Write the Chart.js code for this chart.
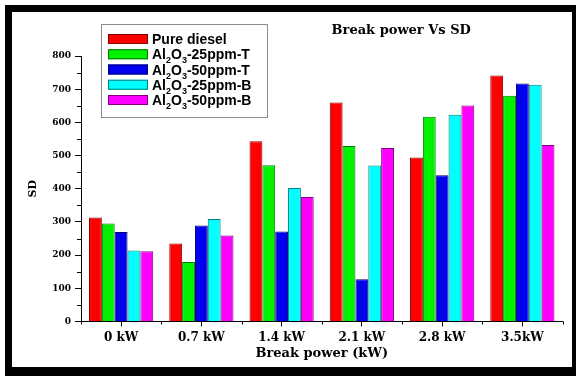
<!DOCTYPE html>
<html>
<head>
<meta charset="utf-8">
<script src="https://cdn.jsdelivr.net/npm/chart.js@4"></script>
<style>
  html, body { margin: 0; padding: 0; background: #fff; }
  #wrap { position: relative; width: 576px; height: 376px; overflow: hidden; }
  #frame {
    position: absolute; left: 5px; top: 5px; right: 0; bottom: 0;
    border-style: solid; border-color: #000; border-width: 7px 4px 9px 7px;
    box-sizing: border-box; pointer-events: none;
  }
  canvas { position: absolute; left: 0; top: 0; }
</style>
</head>
<body>
<div id="wrap">
  <canvas id="sdChart" width="576" height="376"></canvas>
  <div id="frame"></div>
</div>
<script>
const categories = ["0 kW", "0.7 kW", "1.4 kW", "2.1 kW", "2.8 kW", "3.5kW"];

const pureDiesel = [313, 235, 543, 660, 494, 741];
const al25T = [295, 179, 471, 529, 617, 680];
const al50T = [270, 289, 271, 127, 441, 717];
const al25B = [214, 309, 402, 470, 623, 713];
const al50B = [212, 259, 375, 523, 651, 532];

const seriesNames = ["Pure diesel", "Al₂O₃-25ppm-T", "Al₂O₃-50ppm-T", "Al₂O₃-25ppm-B", "Al₂O₃-50ppm-B"];
const seriesValues = [pureDiesel, al25T, al50T, al25B, al50B];
const fillColors = ["#ff0000", "#00f000", "#0000f0", "#00ffff", "#ff00ff"];
const edgeColors = ["#8a0000", "#007a00", "#000070", "#007f7f", "#800080"];

const yMin = 0;
const yMax = 800;
const yStep = 100;

const chartTitle = "Break power Vs SD";
const xTitle = "Break power (kW)";
const yTitle = "SD";

const serif = "'DejaVu Serif', serif";
const sans = "'Liberation Sans', Arial, sans-serif";
const subDigits = "₀₁₂₃₄₅₆₇₈₉";

// writes a legend entry, dropping the unicode subscript digits down in a smaller font
function drawLabel(ctx, text, x, y) {
  const parts = text.split(/([₀-₉]+)/);
  for (const part of parts) {
    if (!part) continue;
    if (subDigits.includes(part[0])) {
      const digits = [...part].map(c => subDigits.indexOf(c)).join("");
      ctx.font = `bold 9px ${sans}`;
      ctx.fillText(digits, x, y + 4);
      x += ctx.measureText(digits).width;
    } else {
      ctx.font = `bold 14px ${sans}`;
      ctx.fillText(part, x, y);
      x += ctx.measureText(part).width;
    }
  }
}

// minor ticks, the title and the boxed legend inside the plot
const extras = {
  id: "extras",
  afterDraw(chart) {
    const { ctx, chartArea: area, scales } = chart;
    const xs = scales.x, ys = scales.y;
    ctx.save();

    ctx.strokeStyle = "#000";
    ctx.lineWidth = 1;
    ctx.beginPath();
    for (let v = yMin + yStep / 2; v < yMax; v += yStep) {
      const py = Math.round(ys.getPixelForValue(v)) + 0.5;
      ctx.moveTo(area.left - 4, py);
      ctx.lineTo(area.left, py);
    }
    const half = (xs.getPixelForValue(1) - xs.getPixelForValue(0)) / 2;
    for (let i = 0; i <= categories.length; i++) {
      const px = Math.round(xs.getPixelForValue(i) - half) + 0.5;
      ctx.moveTo(px, area.bottom);
      ctx.lineTo(px, area.bottom + 3);
    }
    ctx.stroke();

    ctx.fillStyle = "#000";
    ctx.font = `bold 13px ${serif}`;
    ctx.textAlign = "center";
    ctx.textBaseline = "middle";
    ctx.fillText(chartTitle, area.left + area.width * 0.665, 31);

    const boxX = area.left + 20, boxY = 24, boxW = 166, boxH = 93;
    ctx.fillStyle = "#fff";
    ctx.fillRect(boxX, boxY, boxW, boxH);
    ctx.strokeStyle = "#8c8c8c";
    ctx.strokeRect(boxX + 0.5, boxY + 0.5, boxW, boxH);

    ctx.textAlign = "left";
    ctx.textBaseline = "alphabetic";
    chart.data.datasets.forEach((ds, i) => {
      const cy = boxY + 15 + i * 15.25;
      ctx.fillStyle = ds.backgroundColor;
      ctx.fillRect(boxX + 7, cy - 5, 40, 10);
      ctx.strokeStyle = ds.borderColor;
      ctx.strokeRect(boxX + 7.5, cy - 4.5, 39, 9);
      ctx.fillStyle = "#000";
      drawLabel(ctx, ds.label, boxX + 51, cy + 5);
    });

    ctx.restore();
  }
};

new Chart(document.getElementById("sdChart"), {
  type: "bar",
  data: {
    labels: categories,
    datasets: seriesNames.map((name, i) => ({
      label: name,
      data: seriesValues[i],
      backgroundColor: fillColors[i],
      borderColor: edgeColors[i],
      borderWidth: 1,
      categoryPercentage: 0.8,
      barPercentage: 1,
    })),
  },
  options: {
    responsive: false,
    animation: false,
    devicePixelRatio: 1,
    layout: { padding: { left: 0, top: 56, right: 13.5, bottom: 0 } },
    plugins: {
      legend: { display: false },
      title: { display: false },
      tooltip: { enabled: false },
    },
    scales: {
      x: {
        grid: { drawOnChartArea: false, offset: false, tickLength: 5, color: "#000" },
        border: { color: "#000", width: 1 },
        ticks: { color: "#000", padding: 4, font: { family: serif, size: 12, weight: "bold" } },
        title: {
          display: true,
          text: xTitle,
          color: "#000",
          font: { family: serif, size: 13, weight: "bold" },
          padding: { top: 0, bottom: 15 },
        },
        afterFit(scale) { scale.height = 54.5; },
      },
      y: {
        min: yMin,
        max: yMax,
        grid: { drawOnChartArea: false, tickLength: 6, color: "#000" },
        border: { color: "#000", width: 1 },
        ticks: { stepSize: yStep, color: "#000", padding: 4, font: { family: serif, size: 9, weight: "bold" } },
        title: {
          display: true,
          text: yTitle,
          color: "#000",
          font: { family: serif, size: 11, weight: "bold" },
          padding: { top: 27, bottom: 0 },
        },
        afterFit(scale) { scale.width = 81; },
      },
    },
  },
  plugins: [extras],
});
</script>
</body>
</html>
